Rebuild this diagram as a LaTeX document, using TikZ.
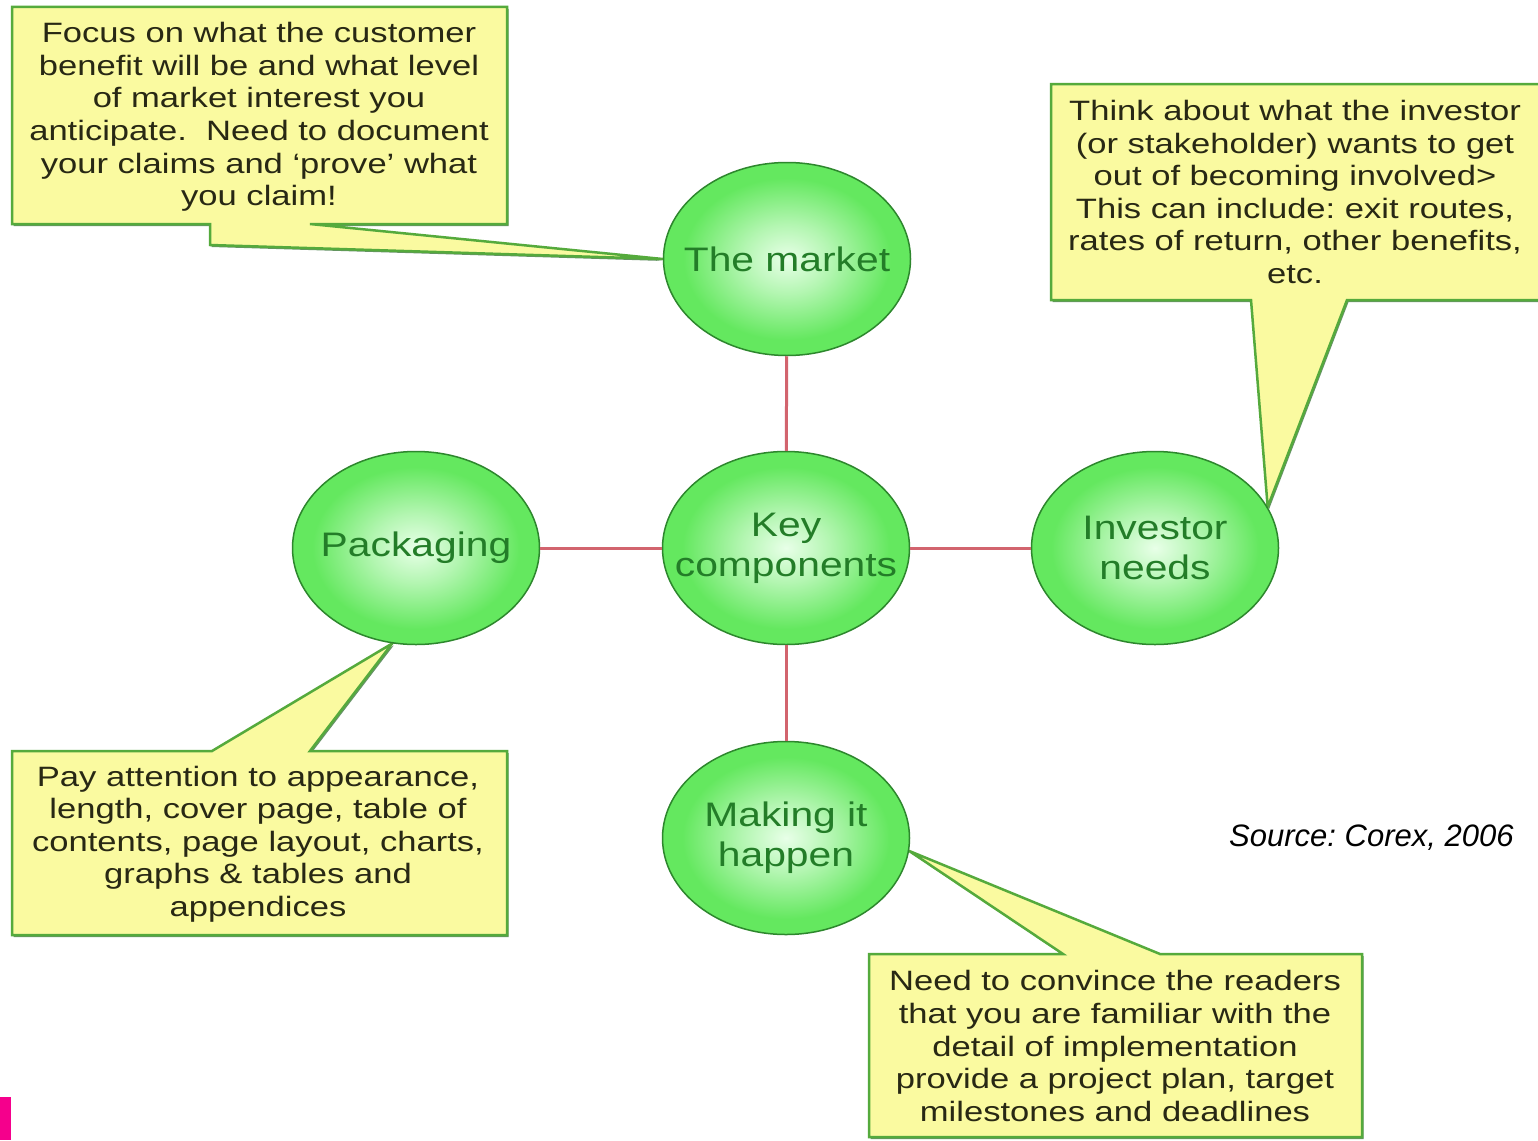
\documentclass[tikz,border=0pt]{standalone}
\usepackage{fontspec}
\setmainfont{Liberation Sans}
\newfontfamily\calloutfont[FakeStretch=1.235]{Liberation Sans}
\newfontfamily\ballfont[FakeStretch=1.2]{Liberation Sans}
\usetikzlibrary{shapes.geometric,shadows}
\definecolor{ballin}{RGB}{232,255,232}
\definecolor{ballout}{RGB}{100,232,95}
\colorlet{ballmid}{ballin!60!ballout}
\definecolor{balledge}{RGB}{45,135,45}
\definecolor{balltext}{RGB}{35,125,40}
\definecolor{notefill}{RGB}{250,250,160}
\definecolor{noteedge}{RGB}{85,170,60}
\definecolor{notetext}{RGB}{40,40,20}
\definecolor{linkred}{RGB}{210,100,110}
\definecolor{tabpink}{RGB}{245,0,140}
\pgfdeclareradialshading{greenball}{\pgfpoint{0bp}{0bp}}{color(0bp)=(ballin); color(9bp)=(ballmid); color(21bp)=(ballout); color(25bp)=(ballout); color(50bp)=(ballout)}
\pgfdeclarelayer{back}
\pgfdeclarelayer{bg}
\pgfsetlayers{back,bg,main}
\tikzset{
  ball/.style={ellipse, draw=balledge, line width=1.5pt, shading=greenball,
    minimum width=247pt, minimum height=193pt, inner sep=0pt},
  balllabel/.style={font=\ballfont\fontsize{34}{40}\selectfont, text=balltext,
    align=center, inner sep=0pt},
  note/.style={fill=notefill, draw=noteedge, line width=2.5pt, line join=miter,
    drop shadow={shadow xshift=1.5pt, shadow yshift=-2pt, fill=black!70!green, opacity=0.6}},
  notetext/.style={font=\calloutfont\fontsize{28}{32.6}\selectfont, text=notetext,
    align=center, inner sep=0pt},
  link/.style={draw=linkred, line width=3pt},
}
\frenchspacing
\begin{document}
\begin{tikzpicture}[x=1pt,y=-1pt]
\begin{pgfonlayer}{back}
\fill[white] (0,0) rectangle (1538,1140);
\end{pgfonlayer}
\useasboundingbox (0,0) rectangle (1538,1140);

% circles
\node[ball] (market) at (787,259) {};
\node[ball] (key) at (786,548) {};
\node[ball] (packaging) at (416,548) {};
\node[ball] (investor) at (1155,548) {};
\node[ball] (making) at (786,838) {};

\node[balllabel] (marketlabel) at (market) {The market};
\node[balllabel] (keylabel) at (key) {Key\\components};
\node[balllabel] (packaginglabel) at (packaging) {Packaging};
\node[balllabel] (investorlabel) at (investor) {Investor\\needs};
\node[balllabel] (makinglabel) at (making) {Making it\\happen};

% links
\draw[link] (market) -- (key);
\draw[link] (packaging) -- (key);
\draw[link] (key) -- (investor);
\draw[link] (key) -- (making);

% callouts
\begin{pgfonlayer}{bg}
\path[note] (12,7) -- (507,7) -- (507,224) -- (310,224) -- (market.west) -- (210,245) -- (210,224) -- (12,224) -- cycle;
\path[note] (1051,84) -- (1548,84) -- (1548,300) -- (1347,300) -- (investor.20) -- (1251,300) -- (1051,300) -- cycle;
\path[note] (12,751) -- (212,751) -- (packaging.256) -- (310,751) -- (507,751) -- (507,935) -- (12,935) -- cycle;
\path[note] (869,954) -- (1063,954) -- (making.-6) -- (1160,954) -- (1362,954) -- (1362,1137) -- (869,1137) -- cycle;
\end{pgfonlayer}

\node[notetext] (t1) at (259,117) {Focus on what the customer\\benefit will be and what level\\of market interest you\\anticipate.\ \ Need to document\\your claims and ‘prove’ what\\you claim!};
\node[notetext] (t2) at (1295,192) {Think about what the investor\\(or stakeholder) wants to get\\out of becoming involved>\\This can include: exit routes,\\rates of return, other benefits,\\etc.};
\node[notetext] (t3) at (258,844) {Pay attention to appearance,\\length, cover page, table of\\contents, page layout, charts,\\graphs \& tables and\\appendices};
\node[notetext] (t4) at (1115,1046) {Need to convince the readers\\that you are familiar with the\\detail of implementation\\provide a project plan, target\\milestones and deadlines};

\node[font=\itshape\fontsize{31}{36}\selectfont, anchor=west, inner sep=0pt] (src) at (1229,838) {Source: Corex, 2006};

\fill[tabpink] (0,1097) rectangle (11,1140);
\end{tikzpicture}
\end{document}
